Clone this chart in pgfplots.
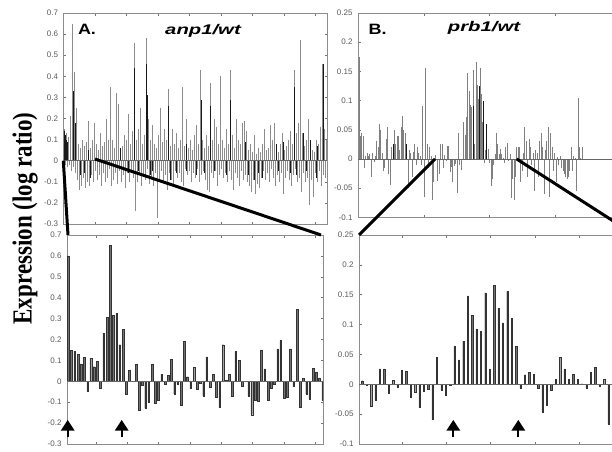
\documentclass[border=0pt]{standalone}
\usepackage{fontspec}
\setmainfont{Liberation Sans}
\newfontfamily\timesfont{Liberation Serif}
\usepackage{pgfplots}
\pgfplotsset{compat=1.18}
\usepackage{pgfplotstable}

\pgfplotstableread[row sep=\\]{y\\
0.15\\0.13\\0.11\\0.21\\0.65\\0.42\\0.25\\0.08\\0.06\\0.1\\
0.07\\0.09\\0.19\\0.06\\0.1\\0.18\\0.08\\0.05\\0.13\\0.07\\
0.09\\0.2\\0.1\\0.35\\0.1\\0.06\\0.32\\0.27\\0.05\\0.07\\
0.12\\0.1\\0.22\\0.08\\0.14\\0.56\\0.1\\0.15\\0.25\\0.08\\
0.12\\0.58\\0.2\\0.1\\0.17\\0.08\\0.06\\0.12\\0.25\\0.09\\
0.15\\0.1\\0.34\\0.07\\0.15\\0.08\\0.13\\0.06\\0.1\\0.35\\
0.07\\0.2\\0.06\\0.1\\0.05\\0.12\\0.17\\0.08\\0.43\\0.1\\
0.06\\0.12\\0.07\\0.37\\0.1\\0.2\\0.16\\0.08\\0.4\\0.1\\
0.06\\0.15\\0.08\\0.43\\0.12\\0.06\\0.2\\0.1\\0.08\\0.18\\
0.19\\0.14\\0.05\\0.08\\0.04\\0.12\\0.03\\0.06\\0.04\\0.08\\
0.15\\0.05\\0.06\\0.17\\0.1\\0.18\\0.06\\0.04\\0.08\\0.13\\
0.05\\0.07\\0.1\\0.14\\0.08\\0.43\\0.13\\0.18\\0.57\\0.13\\
0.07\\0.1\\0.2\\0.1\\0.05\\0.04\\0.1\\0.08\\0.16\\0.46\\
0.15\\0.1\\
}\topAp

\pgfplotstableread[row sep=\\]{y\\
-0.02\\-0.03\\-0.02\\-0.05\\-0.03\\-0.06\\-0.09\\-0.14\\-0.12\\-0.08\\
-0.13\\-0.1\\-0.12\\-0.07\\-0.1\\-0.05\\-0.09\\-0.07\\-0.12\\-0.06\\
-0.1\\-0.08\\-0.04\\-0.12\\-0.09\\-0.06\\-0.11\\-0.05\\-0.1\\-0.07\\
-0.13\\-0.06\\-0.1\\-0.05\\-0.08\\-0.24\\-0.1\\-0.06\\-0.12\\-0.07\\
-0.09\\-0.04\\-0.11\\-0.08\\-0.12\\-0.06\\-0.27\\-0.09\\-0.05\\-0.1\\
-0.07\\-0.14\\-0.06\\-0.09\\-0.12\\-0.05\\-0.08\\-0.06\\-0.1\\-0.12\\
-0.04\\-0.07\\-0.05\\-0.1\\-0.06\\-0.08\\-0.04\\-0.1\\-0.07\\-0.05\\
-0.09\\-0.14\\-0.15\\-0.06\\-0.08\\-0.05\\-0.12\\-0.07\\-0.04\\-0.08\\
-0.06\\-0.1\\-0.05\\-0.09\\-0.14\\-0.06\\-0.08\\-0.12\\-0.05\\-0.09\\
-0.07\\-0.1\\-0.12\\-0.15\\-0.09\\-0.16\\-0.11\\-0.13\\-0.08\\-0.05\\
-0.09\\-0.06\\-0.1\\-0.04\\-0.08\\-0.12\\-0.07\\-0.1\\-0.06\\-0.16\\
-0.08\\-0.05\\-0.09\\-0.12\\-0.07\\-0.04\\-0.1\\-0.08\\-0.15\\-0.06\\
-0.1\\-0.08\\-0.21\\-0.09\\-0.17\\-0.06\\-0.1\\-0.05\\-0.12\\-0.07\\
-0.08\\
}\topAn

\pgfplotstableread[row sep=\\]{y\\
0.175\\0.04\\0.045\\0.04\\-0.015\\0.005\\0.01\\0.005\\0.008\\-0.03\\
0.01\\-0.005\\0.005\\0.03\\0.02\\0.06\\0.05\\0.01\\-0.02\\-0.015\\
0.035\\0.055\\-0.025\\-0.045\\0.02\\0.01\\0.05\\0.025\\0.04\\0.04\\
0.015\\0.055\\0.073\\0.05\\0.045\\0.025\\-0.05\\0.015\\0.01\\-0.03\\
0.012\\0.025\\-0.01\\0.02\\0.01\\0.005\\-0.01\\0.09\\-0.065\\0.155\\
0.025\\-0.015\\0.02\\0.005\\-0.07\\-0.04\\
}\topBa

\pgfplotstableread[row sep=\\]{y\\
0.02\\0.02\\-0.04\\-0.02\\0.01\\0.055\\0.03\\-0.03\\0.035\\0.02\\
-0.01\\0.01\\-0.055\\0.015\\0.01\\-0.03\\0.03\\0.045\\0.02\\-0.06\\
0.015\\0.03\\0.055\\-0.065\\0.045\\0.02\\-0.02\\0.01\\-0.04\\0.003\\
-0.01\\0.005\\-0.015\\-0.02\\-0.025\\-0.03\\-0.035\\-0.03\\-0.02\\0.02\\
-0.02\\0.005\\0.002\\-0.055\\0.105\\0.02\\0.002\\0.02\\
}\topBc

\pgfplotstableread[row sep=\\]{y\\
0.60\\0.147\\0.145\\0.13\\0.083\\0.115\\-0.045\\0.11\\0.07\\0.095\\
-0.035\\0.23\\0.305\\0.65\\0.315\\0.325\\0.175\\0.25\\-0.06\\0.055\\
0\\0.08\\-0.14\\-0.02\\-0.13\\-0.10\\0.082\\-0.105\\-0.09\\0.033\\
-0.012\\0.027\\0.105\\-0.06\\-0.015\\-0.115\\0.19\\0.022\\-0.035\\0.067\\
-0.04\\-0.01\\-0.07\\0.117\\-0.03\\0.033\\-0.075\\-0.125\\0.175\\0.005\\
0.033\\-0.07\\0.143\\0.10\\-0.025\\0\\-0.07\\-0.16\\-0.09\\-0.095\\
0.15\\0.06\\-0.09\\-0.035\\-0.015\\0.155\\0.195\\-0.08\\-0.075\\0.155\\
-0.025\\0.343\\-0.125\\0.015\\-0.06\\-0.087\\0.063\\0.045\\0.016\\-0.09\\
}\botA

\pgfplotstableread[row sep=\\]{y\\
0.006\\-0.002\\-0.037\\-0.026\\0.026\\0.026\\-0.015\\0.007\\-0.004\\0.023\\
0.022\\-0.022\\-0.014\\-0.039\\-0.012\\-0.008\\-0.059\\0.045\\-0.01\\-0.019\\
-0.002\\0.064\\0.041\\0.072\\0.148\\0.116\\0.093\\0.089\\0.153\\0.026\\
0.166\\0.127\\0.103\\0.156\\0.111\\0.064\\-0.007\\0.016\\0.020\\0.017\\
-0.006\\-0.046\\-0.035\\-0.01\\0.008\\0.045\\0.026\\0.008\\0.017\\0.008\\
0.001\\-0.006\\0.02\\0.028\\-0.003\\0.008\\-0.067\\-0.035\\-0.07\\-0.03\\
0.02\\
}\botB

\pgfplotsset{
  panel/.style={
    scale only axis,
    anchor=south west,
    axis line style={black!45, line width=0.5pt},
    tick align=inside,
    major tick length=2.5pt,
    tick style={black!55, line width=0.5pt},
    tick pos=both,
    yticklabel pos=left,
    xticklabels={},
    yticklabel style={font=\fontsize{8}{9}\selectfont, text=black!65, xshift=-2pt},
  },
  ticksA/.style={ymin=-0.3, ymax=0.7,
    ytick={-0.3,-0.2,-0.1,0,0.1,0.2,0.3,0.4,0.5,0.6,0.7},
    yticklabels={-0.3,-0.2,-0.1,0,0.1,0.2,0.3,0.4,0.5,0.6,0.7}},
  ticksB/.style={ymin=-0.1, ymax=0.25,
    ytick={-0.1,-0.05,0,0.05,0.1,0.15,0.2,0.25},
    yticklabels={-0.1,-0.05,0,0.05,0.1,0.15,0.2,0.25}},
}

\begin{document}
\begin{tikzpicture}
\useasboundingbox (0,0) rectangle (612pt,451pt);
\clip (0,0) rectangle (612pt,451pt);

% ---------- Top A ----------
\begin{axis}[panel, ticksA, at={(63.5pt,227pt)}, width=263.5pt, height=211pt,
  xmin=63.5, xmax=327, xtick={95,126.5,158,189.5,221,252.5,284,315.5}]
\addplot[ycomb, black!45, line width=0.9pt] table[x expr=64+2*\coordindex, y=y] {\topAp};
\addplot[ycomb, black!45, line width=0.9pt] table[x expr=65+2*\coordindex, y=y] {\topAn};
\addplot[ycomb, black!90, line width=0.7pt] coordinates {
 (64.5,0.14)(65.5,0.12)(66.5,0.1)(67.5,0.09)(73,0.33)(75,0.18)(88,0.05)(120,0.06)
 (134,0.44)(146,0.46)(147,0.31)(168,0.26)(186,0.08)(201,0.29)(210,0.26)(230,0.29)
 (245,0.09)(276,0.08)(283,0.09)(294,0.35)(303,0.13)(310,0.1)(317,0.07)(323,0.46)};
\addplot[ycomb, black!90, line width=0.7pt] coordinates {
 (80,-0.07)(84,-0.06)(90,-0.08)(128,-0.06)(138,-0.05)(150,-0.07)(152,-0.05)(170,-0.09)
 (176,-0.06)(186,-0.05)(196,-0.07)(204,-0.06)(214,-0.05)(226,-0.07)(248,-0.07)(254,-0.09)
 (258,-0.06)(262,-0.08)(278,-0.05)(290,-0.06)(296,-0.07)(306,-0.05)(316,-0.08)};
\draw[black!60, line width=0.6pt] (axis cs:63.5,0) -- (axis cs:327,0);
\end{axis}

% ---------- Top B ----------
\begin{axis}[panel, ticksB, at={(358pt,233.6pt)}, width=282pt, height=204.4pt,
  xmin=358, xmax=640, xtick={424,489.5,555,620.5}]
\addplot[ycomb, black!50, line width=0.9pt] table[x expr=359+1.36*\coordindex, y=y] {\topBa};
\addplot[ycomb, black!50, line width=0.9pt] table[x expr=435.2+1.36*\coordindex, y=y] {\botB};
\addplot[ycomb, black!50, line width=0.9pt] table[x expr=518.1+1.36*\coordindex, y=y] {\topBc};
\addplot[ycomb, black!90, line width=0.7pt] coordinates {
 (393.5,0.025)(406,0.025)(473,0.09)(479.5,0.125)(483,0.1)(486,0.06)};
\draw[black!60, line width=0.6pt] (axis cs:358,0) -- (axis cs:640,0);
\end{axis}

% ---------- Bottom A ----------
\begin{axis}[panel, ticksA, at={(67pt,7pt)}, width=256pt, height=209pt,
  xmin=67, xmax=323, xtick={96,127.3,158.6,189.9,221.2,252.5,283.8,315.1}]
\addplot[ybar, bar width=1.7pt, fill=black!55, draw=black!80, line width=0.35pt]
  table[x expr=68.3+3.22*\coordindex, y=y] {\botA};
\draw[black!60, line width=0.6pt] (axis cs:67,0) -- (axis cs:323,0);
\end{axis}

% ---------- Bottom B ----------
\begin{axis}[panel, ticksB, at={(359pt,7pt)}, width=276pt, height=209pt,
  xmin=359, xmax=635, xtick={402.3,446.5,490.7,535,579.3,623.5}]
\addplot[ybar, bar width=1.3pt, fill=black!55, draw=black!80, line width=0.35pt]
  table[x expr=362.3+4.395*\coordindex, y=y] {\botB};
\draw[black!60, line width=0.6pt] (axis cs:359,0) -- (axis cs:635,0);
\end{axis}

% ---------- zoom lines ----------
\draw[line width=3pt] (63.3pt,290.3pt) -- (68pt,216pt);
\draw[line width=3pt] (95pt,292pt) -- (321pt,216pt);
\draw[line width=3pt] (435pt,292pt) -- (359pt,216pt);
\draw[line width=3pt] (516.7pt,292pt) -- (635pt,216pt);

% ---------- arrows ----------
\foreach \ax in {67.7,121.7,453.3,518.3}{
  \draw[line width=2pt] (\ax pt,13.7pt) -- (\ax pt,21pt);
  \fill (\ax pt-7pt,20.3pt) -- (\ax pt+7pt,20.3pt) -- (\ax pt,31pt) -- cycle;
}

% ---------- texts ----------
\node[anchor=base, font=\fontsize{15}{15}\selectfont\bfseries, xscale=1.2] at (87pt,416pt) {A.};
\node[anchor=base, font=\fontsize{14}{14}\selectfont\bfseries\itshape, xscale=1.45] at (203pt,416pt) {anp1/wt};
\node[anchor=base, font=\fontsize{15}{15}\selectfont\bfseries, xscale=1.2] at (377.5pt,416pt) {B.};
\node[anchor=base, font=\fontsize{14}{14}\selectfont\bfseries\itshape, xscale=1.45] at (484pt,419pt) {prb1/wt};
\node[rotate=90, yscale=1.2, font=\timesfont\bfseries\fontsize{23}{24}\selectfont] at (25pt,232.5pt) {Expression (log ratio)};
\end{tikzpicture}
\end{document}
